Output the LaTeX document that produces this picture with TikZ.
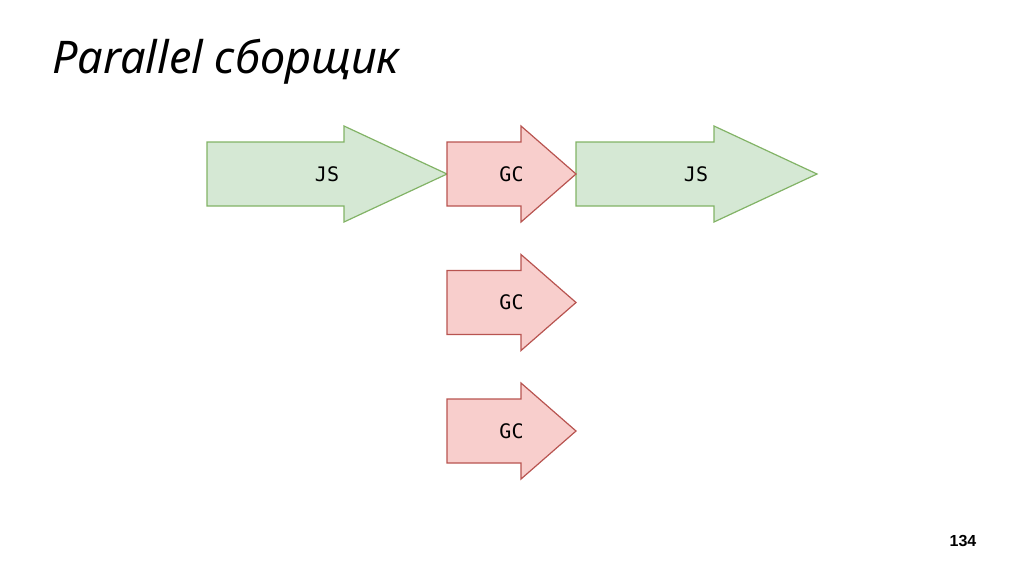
\documentclass[tikz,border=0pt]{standalone}
\usepackage{fontspec}
\setmainfont{Liberation Sans}
\newfontfamily\titlefont{Noto Sans}
\newfontfamily\labelfont{DejaVu Sans Mono}
\definecolor{jsfill}{HTML}{D5E8D4}
\definecolor{jsline}{HTML}{82B366}
\definecolor{gcfill}{HTML}{F8CECC}
\definecolor{gcline}{HTML}{B85450}
\begin{document}
\begin{tikzpicture}[x=1pt, y=-1pt,
    jsarrow/.style={fill=jsfill, draw=jsline, line width=1.2pt, line join=miter},
    gcarrow/.style={fill=gcfill, draw=gcline, line width=1.2pt, line join=miter},
    label/.style={font=\labelfont\fontsize{20}{20}\selectfont, inner sep=0pt}]
\useasboundingbox (0,0) rectangle (1024,574);

\node[font=\titlefont\itshape\fontsize{45}{45}\selectfont, anchor=base west, inner sep=0pt] (title) at (52,73) {Parallel сборщик};

% JS before and after the pause
\draw[jsarrow] (207,142)--(344,142)--(344,126)--(447,174)--(344,222)--(344,206)--(207,206)--cycle;
\node[label] (js1) at (327,174) {JS};
\draw[jsarrow] (576,142)--(714,142)--(714,126)--(817,174)--(714,222)--(714,206)--(576,206)--cycle;
\node[label] (js2) at (696,174) {JS};

% GC threads
\foreach \y [count=\i] in {174,302.5,431}
{
    \draw[gcarrow] (447,\y-32)--(521,\y-32)--(521,\y-48)--(576,\y)--(521,\y+48)--(521,\y+32)--(447,\y+32)--cycle;
    \node[label] (gc\i) at (511.5,\y) {GC};
}

\node[font=\bfseries\fontsize{16}{16}\selectfont, inner sep=0pt] (page) at (963,541) {134};

\end{tikzpicture}
\end{document}
